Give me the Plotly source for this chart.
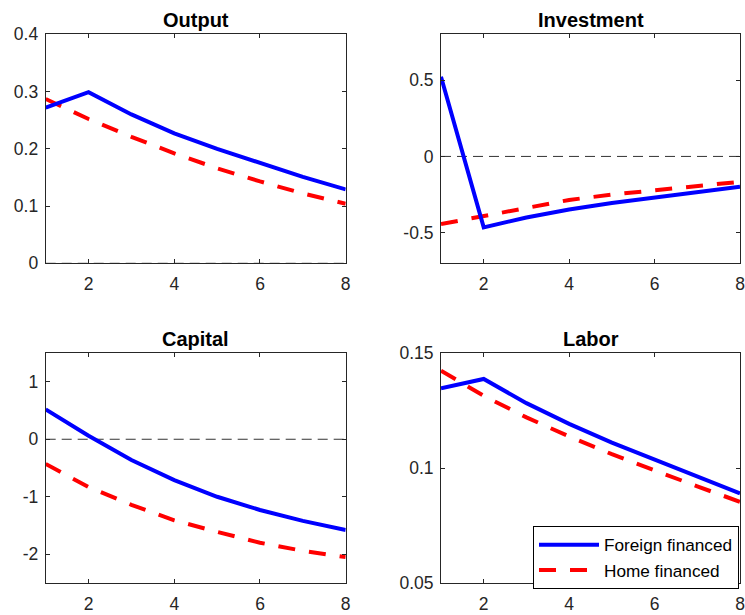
import plotly.graph_objects as go

periods = [1, 2, 3, 4, 5, 6, 7, 8]

output_foreign = [0.272, 0.299, 0.260, 0.227, 0.200, 0.175, 0.151, 0.129]
output_home = [0.287, 0.252, 0.221, 0.192, 0.166, 0.143, 0.122, 0.104]

invest_foreign = [0.522, -0.465, -0.400, -0.347, -0.305, -0.268, -0.233, -0.199]
invest_home = [-0.443, -0.390, -0.335, -0.285, -0.250, -0.222, -0.194, -0.166]

capital_foreign = [0.52, 0.06, -0.36, -0.71, -1.00, -1.23, -1.42, -1.58]
capital_home = [-0.43, -0.83, -1.14, -1.41, -1.61, -1.80, -1.94, -2.05]

labor_foreign = [0.1347, 0.1387, 0.1282, 0.1192, 0.1110, 0.1038, 0.0962, 0.0890]
labor_home = [0.1423, 0.1314, 0.1220, 0.1137, 0.1060, 0.0988, 0.0920, 0.0853]

titles = ["Output", "Investment", "Capital", "Labor"]
foreign_series = [output_foreign, invest_foreign, capital_foreign, labor_foreign]
home_series = [output_home, invest_home, capital_home, labor_home]
y_ranges = [[0, 0.4], [-0.7, 0.8], [-2.5, 1.5], [0.05, 0.15]]
y_ticks = [[0, 0.1, 0.2, 0.3, 0.4], [-0.5, 0, 0.5], [-2, -1, 0, 1], [0.05, 0.1, 0.15]]
y_ticktext = [["0", "0.1", "0.2", "0.3", "0.4"], ["-0.5", "0", "0.5"], ["-2", "-1", "0", "1"], ["0.05", "0.1", "0.15"]]
x_ticks = [2, 4, 6, 8]

W, H = 745, 615
x_doms = [[45.7 / W, 345.7 / W], [441 / W, 740 / W]]
y_doms = [[1 - 263.3 / H, 1 - 34.3 / H], [1 - 583 / H, 1 - 353 / H]]

fig = go.Figure()
axis_color = "#262626"
font_family = "Liberation Sans, Arial, sans-serif"

for i in range(4):
    row, col = divmod(i, 2)
    n = "" if i == 0 else str(i + 1)
    xa, ya = "x" + n, "y" + n
    # zero reference line
    fig.add_trace(go.Scatter(x=[periods[0], periods[-1]], y=[0, 0], mode="lines",
                             line=dict(color="#333333", width=1, dash="10px,6px"),
                             showlegend=False, hoverinfo="skip", xaxis=xa, yaxis=ya))
    fig.add_trace(go.Scatter(x=periods, y=home_series[i], mode="lines", name="Home financed",
                             line=dict(color="#ff0000", width=4, dash="17px,14px"),
                             showlegend=(i == 3), legendrank=2, xaxis=xa, yaxis=ya))
    fig.add_trace(go.Scatter(x=periods, y=foreign_series[i], mode="lines", name="Foreign financed",
                             line=dict(color="#0000ff", width=4),
                             showlegend=(i == 3), legendrank=1, xaxis=xa, yaxis=ya))
    common = dict(showgrid=False, zeroline=False, showline=True, mirror="ticks",
                  linecolor=axis_color, linewidth=1, ticks="inside", ticklen=4,
                  tickcolor=axis_color, ticklabeloverflow="allow", automargin=False,
                  tickfont=dict(family=font_family, size=17.5, color=axis_color))
    fig.layout["xaxis" + n] = dict(domain=x_doms[col], range=[1, 8], tickvals=x_ticks,
                                   anchor=ya, ticklabelstandoff=5, **common)
    fig.layout["yaxis" + n] = dict(domain=y_doms[row], range=y_ranges[i], tickvals=y_ticks[i],
                                   ticktext=y_ticktext[i], anchor=xa, ticklabelstandoff=3, **common)
    fig.add_annotation(text="<b>" + titles[i] + "</b>", xref="paper", yref="paper",
                       x=(x_doms[col][0] + x_doms[col][1]) / 2, y=y_doms[row][1],
                       xanchor="center", yanchor="bottom", yshift=1, showarrow=False,
                       font=dict(family=font_family, size=20, color="black"))

fig.update_layout(
    template="none",
    width=W, height=H, margin=dict(l=0, r=0, t=0, b=0, autoexpand=False),
    plot_bgcolor="white", paper_bgcolor="white",
    legend=dict(x=739 / W, y=1 - 526 / H, xanchor="right", yanchor="top",
                bordercolor="black", borderwidth=1, bgcolor="white",
                traceorder="normal", itemwidth=60, tracegroupgap=0,
                font=dict(family=font_family, size=17.2, color="black")),
)

fig.write_html("out.html", config={"displayModeBar": False},
               post_script="document.body.style.margin='0';document.body.style.overflow='hidden';")
